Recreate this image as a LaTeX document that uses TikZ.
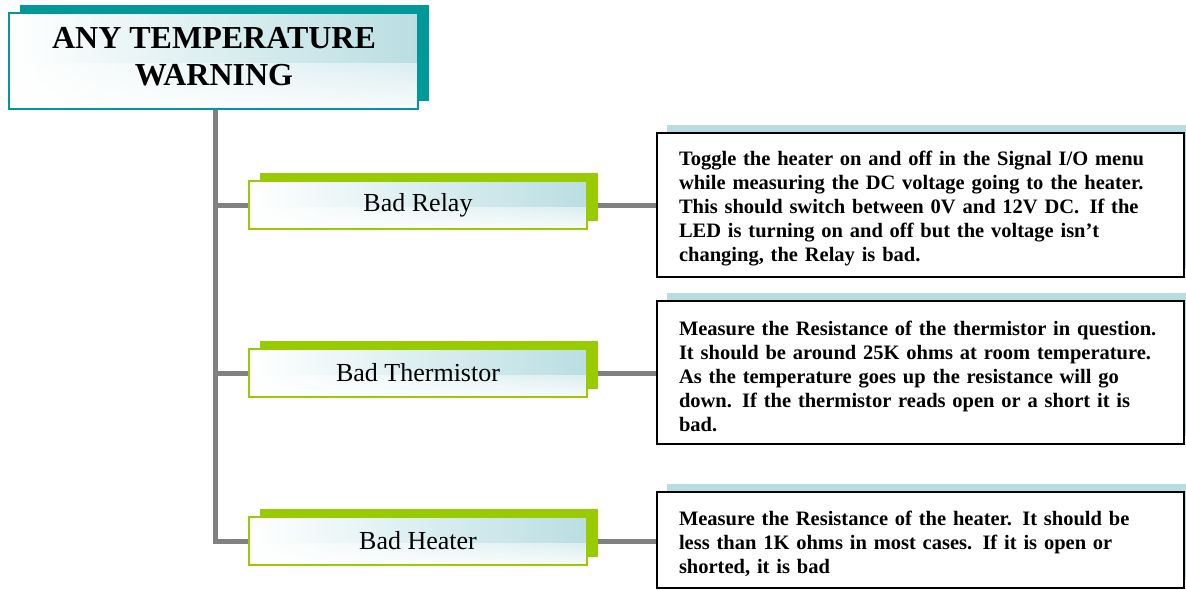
\documentclass[tikz,border=0pt]{standalone}
\usepackage{fontspec}
\setmainfont{Liberation Serif}
\usetikzlibrary{shadows,fadings,backgrounds}

\definecolor{tealdark}{RGB}{0,153,153}
\definecolor{leafgreen}{RGB}{153,204,0}
\definecolor{paleteal}{RGB}{186,222,226}
\definecolor{bandteal}{RGB}{183,221,224}
\definecolor{wiregray}{RGB}{128,128,128}

\newcommand{\gap}{\hspace{0.5em}}

\tikzset{
  glassfill/.style={left color=white, right color=paleteal,
    path picture={\fill[white, path fading=north, fill opacity=0.9]
      (path picture bounding box.south west) rectangle
      ([yshift=-2pt]path picture bounding box.east);}},
  titlebox/.style={glassfill, draw=tealdark, line width=1.6pt,
    minimum width=409pt, minimum height=96pt,
    general shadow={fill=tealdark, shadow xshift=11pt, shadow yshift=8pt}},
  titletext/.style={align=center, inner sep=0pt,
    font=\fontsize{32}{37}\selectfont\bfseries},
  causebox/.style={glassfill, draw=leafgreen, line width=1.6pt,
    minimum width=338pt, minimum height=48pt,
    font=\fontsize{26}{30}\selectfont,
    general shadow={fill=leafgreen, shadow xshift=11pt, shadow yshift=8pt}},
  notebox/.style={draw=black, fill=white, line width=1.8pt,
    minimum width=527pt, inner xsep=22pt, text width=483pt, align=left,
    font=\fontsize{20.5}{24}\selectfont\bfseries,
    execute at end node={\par\vspace*{-8pt}},
    general shadow={fill=bandteal, shadow xshift=10pt, shadow yshift=8pt}},
  wire/.style={draw=wiregray, line width=5pt}
}

\begin{document}
\begin{tikzpicture}[x=1pt, y=-1pt]
\useasboundingbox (0,0) rectangle (1186,589);

\node[titlebox] (title) at (213.5,61) {};
\node[titletext] (titlelabel) at (214,57) {ANY TEMPERATURE\\WARNING};

\node[causebox] (relay)  at (418,205) {Bad Relay};
\node[causebox] (therm)  at (418,373) {Bad Thermistor};
\node[causebox] (heater) at (418,541) {Bad Heater};

\node[notebox, minimum height=144pt] (relaytxt) at (920.5,205)
  {Toggle the heater on and off in the Signal I/O menu\\
   while measuring the DC voltage going to the heater.\\
   This should switch between 0V and 12V DC.\gap If the\\
   LED is turning on and off but the voltage isn’t\\
   changing, the Relay is bad.};

\node[notebox, minimum height=143pt] (thermtxt) at (920.5,372.5)
  {Measure the Resistance of the thermistor in question.\\
   It should be around 25K ohms at room temperature.\\
   As the temperature goes up the resistance will go\\
   down.\gap If the thermistor reads open or a short it is\\
   bad.};

\node[notebox, minimum height=96pt] (heatertxt) at (920.5,540)
  {Measure the Resistance of the heater.\gap It should be\\
   less than 1K ohms in most cases.\gap If it is open or\\
   shorted, it is bad};

\begin{scope}[on background layer]
  \coordinate (trunk) at ([xshift=1.5pt]title.south);
  \draw[wire] (trunk) |- (heater.west);
  \draw[wire] (trunk |- relay.west) -- (relay.west);
  \draw[wire] (trunk |- therm.west) -- (therm.west);
  \draw[wire] (relay.east) -- (relay.east -| relaytxt.west);
  \draw[wire] (therm.east) -- (therm.east -| thermtxt.west);
  \draw[wire] (heater.east) -- (heater.east -| heatertxt.west);
\end{scope}
\end{tikzpicture}
\end{document}
